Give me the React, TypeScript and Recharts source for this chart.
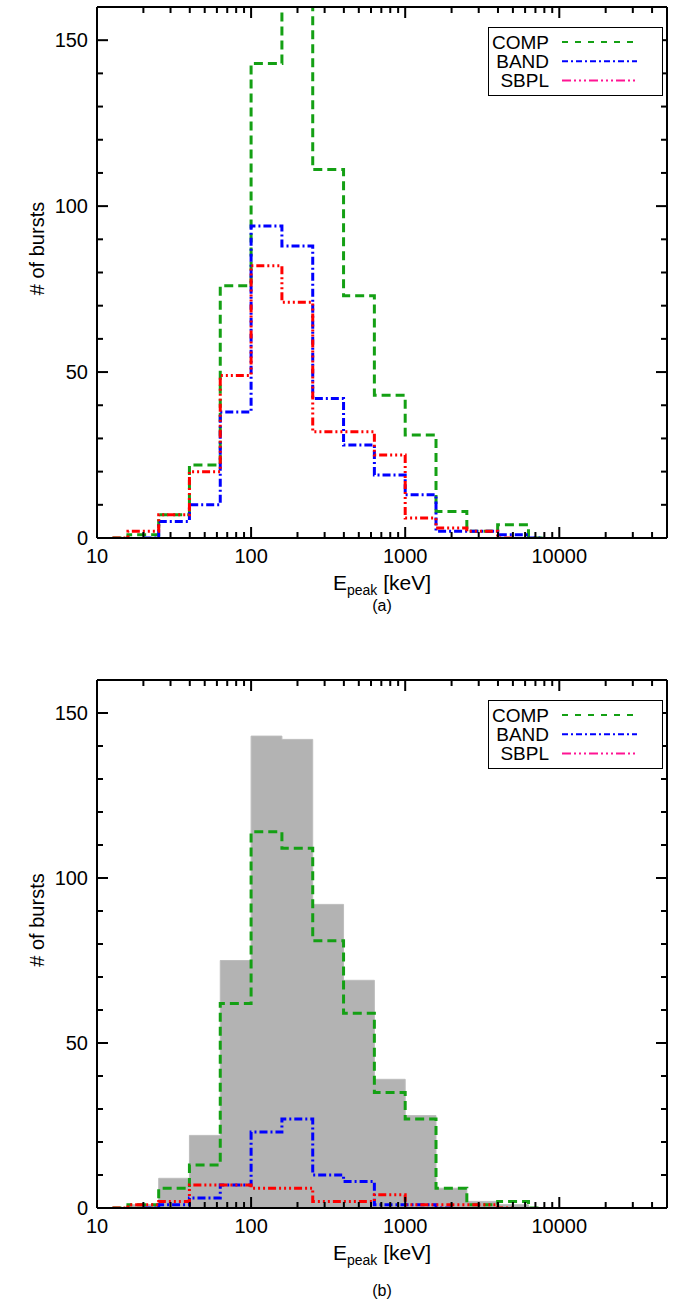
import React from 'react';
import { ComposedChart, Line, Area, XAxis, YAxis, Legend, ReferenceLine } from 'recharts';

const FONT = '"Liberation Sans", Arial, Helvetica, sans-serif';

// bin centres in keV (bins are 0.2 dex wide)
const binCenters = [12.6, 20.0, 31.6, 50.1, 79.4, 125.9, 199.5, 316.2, 501.2, 794.3, 1258.9, 1995.3, 3162.3, 5011.9, 7943.3];

// panel (a)
const compA = [0, 1, 7, 22, 76, 143, 175, 111, 73, 43, 31, 8, 2, 4, 0];
const bandA = [null, 0, 5, 10, 38, 94, 88, 42, 28, 19, 13, 2, 2, 1, 0];
const sbplA = [0, 2, 7, 20, 49, 82, 71, 32, 32, 25, 6, 3, 2, 0, null];

// panel (b)
const allB = [0, 1, 9, 22, 75, 143, 142, 92, 69, 39, 28, 6, 2, 1, 0];
const compB = [0, 1, 6, 13, 62, 114, 109, 81, 59, 35, 27, 6, 1, 2, 0];
const bandB = [null, 0, 1, 3, 7, 23, 27, 10, 8, 1, 1, 0, null, null, null];
const sbplB = [0, 1, 2, 7, 7, 6, 6, 2, 2, 4, 1, 1, 1, 0, null];

const xTicks = [
  10, 20, 30, 40, 50, 60, 70, 80, 90,
  100, 200, 300, 400, 500, 600, 700, 800, 900,
  1000, 2000, 3000, 4000, 5000, 6000, 7000, 8000, 9000,
  10000, 20000, 30000, 40000,
];
const xMajor = [10, 100, 1000, 10000];
const yTicks = [0, 10, 20, 30, 40, 50, 60, 70, 80, 90, 100, 110, 120, 130, 140, 150, 160];
const yMajor = [0, 50, 100, 150];

const legendItems = [
  { name: 'COMP', color: '#14a014', dash: '6 7' },
  { name: 'BAND', color: '#0000ff', dash: '6 3 2 3' },
  { name: 'SBPL', color: '#ff1493', dash: '9 3 2 3 2 3 2 3' },
];

const dataA = binCenters.map((e, i) => ({ e, comp: compA[i], band: bandA[i], sbpl: sbplA[i] }));
const dataB = binCenters.map((e, i) => ({ e, all: allB[i], comp: compB[i], band: bandB[i], sbpl: sbplB[i] }));

const X_MIN = 10;
const X_MAX = 50000;
const Y_MAX = 160;
const PLOT_W = 570;
const AXISLINE = { stroke: '#000', strokeWidth: 2 };

const tickLen = (major: boolean) => (major ? 11 : 6);

// inward tick marks on the top and right edges
const TopMark = (props: any) => {
  const len = tickLen(xMajor.includes(props.payload.value));
  return <rect x={Number(props.x) - 1} y={Number(props.y)} width={2} height={len} fill="#000" />;
};
const RightMark = (props: any) => {
  const len = tickLen(yMajor.includes(props.payload.value));
  return <rect x={Number(props.x) - len} y={Number(props.y) - 1} width={len} height={2} fill="#000" />;
};

const BottomLabel = (props: any) => (
  <text x={props.x} y={Number(props.y) + 25} textAnchor="middle" fontSize={20} fontFamily={FONT} fill="#000">
    {props.payload.value}
  </text>
);
const LeftLabel = (props: any) => (
  <text x={Number(props.x) - 9} y={props.y} dy="0.36em" textAnchor="end" fontSize={20} fontFamily={FONT} fill="#000">
    {props.payload.value}
  </text>
);

const LegendBox = () => (
  <div style={{ width: 175, height: 69, border: '1.5px solid #000', boxSizing: 'border-box', background: '#fff' }}>
    <svg width={172} height={66} style={{ display: 'block' }}>
      {legendItems.map((it, i) => (
        <g key={it.name}>
          <text x={60} y={14 + i * 19.3} dy="0.36em" textAnchor="end" fontSize={19} fontFamily={FONT} fill="#000">
            {it.name}
          </text>
          <line x1={73} x2={148} y1={14 + i * 19.3} y2={14 + i * 19.3} stroke={it.color} strokeWidth={2} strokeDasharray={it.dash} />
        </g>
      ))}
    </svg>
  </div>
);

const xBase = {
  dataKey: 'e',
  type: 'number' as const,
  scale: 'log' as const,
  domain: [X_MIN, X_MAX],
  allowDataOverflow: true,
  interval: 0 as const,
  tickSize: 0,
  tickMargin: 0,
  tickLine: false,
};
const yBase = {
  type: 'number' as const,
  domain: [0, Y_MAX],
  allowDataOverflow: true,
  interval: 0 as const,
  tickSize: 0,
  tickMargin: 0,
  tickLine: false,
};

function Panel({ data, caption, plotH, capDy, hasAll }: any) {
  const H = 636;
  // tick lengths for the bottom/left edges, converted from px to data units
  const yLen = (px: number) => (px * Y_MAX) / plotH;
  const xEnd = (px: number) => X_MIN * Math.pow(X_MAX / X_MIN, px / PLOT_W);
  return (
    <ComposedChart width={678} height={H} data={data} margin={{ top: 6, right: 10, left: 17, bottom: H - 7 - plotH - 90 }}>
      <XAxis
        {...xBase}
        xAxisId="main"
        height={90}
        ticks={xMajor}
        tick={BottomLabel}
        axisLine={AXISLINE}
        label={(p: any) => {
          const vb = p.viewBox;
          const cx = vb.x + vb.width / 2;
          return (
            <g fontFamily={FONT} fill="#000">
              <text x={cx} y={vb.y + 52} textAnchor="middle" fontSize={21}>
                E<tspan fontSize={14} dy={5}>peak</tspan>
                <tspan dy={-5}> [keV]</tspan>
              </text>
              <text x={cx} y={vb.y + capDy} textAnchor="middle" fontSize={16}>
                {caption}
              </text>
            </g>
          );
        }}
      />
      <XAxis {...xBase} xAxisId="top" orientation="top" height={1} ticks={xTicks} tick={TopMark} axisLine={AXISLINE} />

      <YAxis
        {...yBase}
        yAxisId="main"
        width={80}
        ticks={yMajor}
        tick={LeftLabel}
        axisLine={AXISLINE}
        label={(p: any) => {
          const vb = p.viewBox;
          const cy = vb.y + vb.height / 2 - 24;
          return (
            <text x={37} y={cy} transform={`rotate(-90 37 ${cy})`} dy="0.36em" textAnchor="middle" fontSize={20} fontFamily={FONT} fill="#000">
              # of bursts
            </text>
          );
        }}
      />
      <YAxis {...yBase} yAxisId="right" orientation="right" width={1} ticks={yTicks} tick={RightMark} axisLine={AXISLINE} />

      {hasAll && (
        <Area
          xAxisId="main"
          yAxisId="main"
          dataKey="all"
          type="step"
          fill="#b3b3b3"
          fillOpacity={1}
          stroke="#bdbdbd"
          strokeWidth={1}
          legendType="none"
          isAnimationActive={false}
        />
      )}
      <Line xAxisId="main" yAxisId="main" dataKey="comp" type="step" stroke="#14a014" strokeWidth={3} strokeDasharray="9 5" dot={false} isAnimationActive={false} />
      <Line xAxisId="main" yAxisId="main" dataKey="band" type="step" stroke="#0000ff" strokeWidth={3} strokeDasharray="8 3 2 3" dot={false} isAnimationActive={false} />
      <Line xAxisId="main" yAxisId="main" dataKey="sbpl" type="step" stroke="#ff0000" strokeWidth={3} strokeDasharray="8 3 2 3 2 3 2 3" dot={false} isAnimationActive={false} />

      {/* inward tick marks on the bottom and left edges */}
      {xTicks.map((v) => (
        <ReferenceLine
          key={`bx${v}`}
          xAxisId="main"
          yAxisId="main"
          ifOverflow="visible"
          segment={[{ x: v, y: 0 }, { x: v, y: yLen(tickLen(xMajor.includes(v))) }]}
          stroke="#000"
          strokeWidth={2}
        />
      ))}
      {yTicks.map((v) => (
        <ReferenceLine
          key={`ly${v}`}
          xAxisId="main"
          yAxisId="main"
          ifOverflow="visible"
          segment={[{ x: X_MIN, y: v }, { x: xEnd(tickLen(yMajor.includes(v))), y: v }]}
          stroke="#000"
          strokeWidth={2}
        />
      ))}

      <Legend
        layout="vertical"
        align="center"
        verticalAlign="middle"
        content={() => <LegendBox />}
        wrapperStyle={{ left: 488, top: 27, width: 175, height: 69 }}
      />
    </ComposedChart>
  );
}

export default function App() {
  return (
    <div style={{ position: 'absolute', left: 0, top: 0, width: 678, height: 1309, background: '#fff' }}>
      <div style={{ position: 'absolute', left: 0, top: 0 }}>
        <Panel data={dataA} caption="(a)" plotH={531} capDy={73} hasAll={false} />
      </div>
      <div style={{ position: 'absolute', left: 0, top: 673 }}>
        <Panel data={dataB} caption="(b)" plotH={528} capDy={88} hasAll />
      </div>
    </div>
  );
}
